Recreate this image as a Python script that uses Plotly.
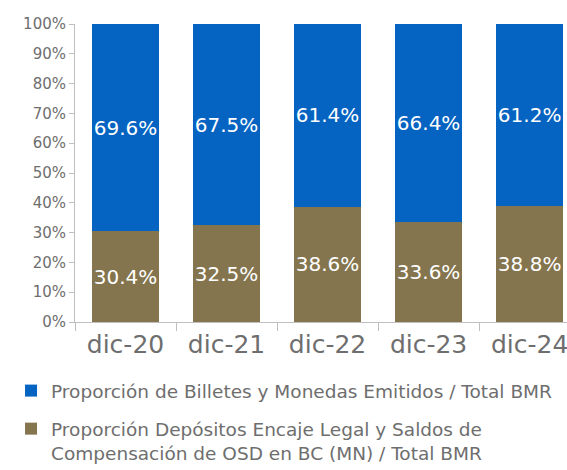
import plotly.graph_objects as go

periodos = ["dic-20", "dic-21", "dic-22", "dic-23", "dic-24"]
billetes_monedas = [69.6, 67.5, 61.4, 66.4, 61.2]
depositos_encaje = [30.4, 32.5, 38.6, 33.6, 38.8]

nombre_billetes = "Proporción de Billetes y Monedas Emitidos / Total BMR"
nombre_depositos = ("Proporción Depósitos Encaje Legal y Saldos de<br>"
                    "Compensación de OSD en BC (MN) / Total BMR")

AZUL = "#0563C1"
CAFE = "#84754E"
GRIS = "#6E6E6E"
FUENTE = "DejaVu Sans"

fig = go.Figure()
fig.add_trace(go.Bar(
    x=periodos, y=depositos_encaje, name=nombre_depositos,
    marker=dict(color=CAFE, line=dict(width=0)),
    text=[f"{v:.1f}%" for v in depositos_encaje],
    textposition="inside", insidetextanchor="middle", textangle=0,
    textfont=dict(color="white", size=20, family=FUENTE),
    constraintext="none", width=0.66, legendgroup="b", legendrank=2,
))
fig.add_trace(go.Bar(
    x=periodos, y=billetes_monedas, name=nombre_billetes,
    marker=dict(color=AZUL, line=dict(width=0)),
    text=[f"{v:.1f}%" for v in billetes_monedas],
    textposition="inside", insidetextanchor="middle", textangle=0,
    textfont=dict(color="white", size=20, family=FUENTE),
    constraintext="none", width=0.66, legendgroup="a", legendrank=1,
))

fig.update_layout(
    width=567, height=470,
    margin=dict(l=75, r=0, t=24, b=148, autoexpand=False),
    barmode="stack",
    plot_bgcolor="white", paper_bgcolor="white",
    font=dict(family=FUENTE, color=GRIS),
    showlegend=True,
    legend=dict(
        x=-0.13, y=-0.168, xanchor="left", yanchor="top",
        traceorder="grouped", tracegroupgap=11, valign="top",
        font=dict(size=18.5, color=GRIS, family=FUENTE),
        itemwidth=30, bgcolor="rgba(0,0,0,0)",
    ),
    xaxis=dict(
        range=[-0.5, 4.37], tickangle=0,
        showline=True, linecolor="#BFBFBF", linewidth=1,
        ticks="outside", tickson="boundaries", ticklen=8, tickcolor="#BFBFBF",
        tickfont=dict(size=25, color=GRIS, family=FUENTE),
        showgrid=False,
    ),
    yaxis=dict(
        range=[0, 100], dtick=10, ticksuffix="%",
        showline=True, linecolor="#BFBFBF", linewidth=1,
        ticks="outside", ticklen=5, tickcolor="#BFBFBF",
        tickfont=dict(size=15, color=GRIS, family=FUENTE),
        showgrid=False, zeroline=False,
    ),
)

fig.write_html("out.html")
